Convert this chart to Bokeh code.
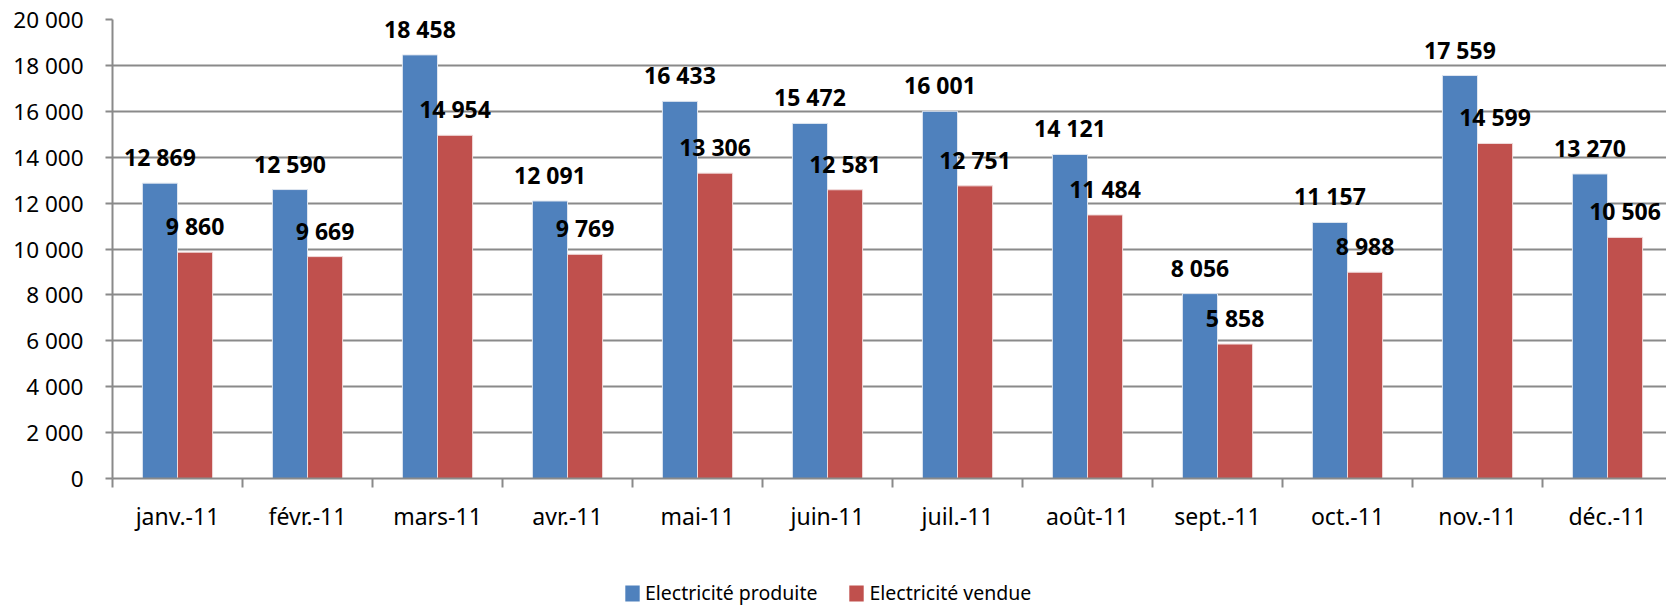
from bokeh.plotting import figure
from bokeh.layouts import column
from bokeh.models import (Range1d, FixedTicker, ColumnDataSource, Legend, LegendItem)
from bokeh.core.properties import value
from bokeh.embed import file_html
from bokeh.resources import INLINE

months = ["janv.-11", "févr.-11", "mars-11", "avr.-11", "mai-11", "juin-11",
          "juil.-11", "août-11", "sept.-11", "oct.-11", "nov.-11", "déc.-11"]
produite = [12869, 12590, 18458, 12091, 16433, 15472, 16001, 14121, 8056, 11157, 17559, 13270]
vendue = [9860, 9669, 14954, 9769, 13306, 12581, 12751, 11484, 5858, 8988, 14599, 10506]
y_ticks = list(range(0, 20001, 2000))
series_names = ["Electricité produite", "Electricité vendue"]

BLUE = "#4F81BD"
RED = "#C0504D"
GRID = "#8a8a8a"
FONT = "Noto Sans"

def fmt(v):
    return f"{v:,}".replace(",", " ")

n = len(months)
centers = [i + 0.5 for i in range(n)]
off = 0.135
bw = 0.27

src = ColumnDataSource(dict(
    xb=[c - off for c in centers], xr=[c + off for c in centers],
    p=produite, v=vendue,
    pl=[fmt(x) for x in produite], vl=[fmt(x) for x in vendue],
))

W = 1666
p = figure(width=W, height=560, output_backend="svg", toolbar_location=None,
           x_range=Range1d(0, 1554 / 130.0), y_range=Range1d(0, 20000),
           min_border_left=112, min_border_right=0, min_border_top=19,
           min_border_bottom=82)
p.outline_line_color = None
p.background_fill_color = "white"
p.border_fill_color = "white"

rb = p.vbar(x="xb", top="p", width=bw, bottom=0, source=src, fill_color=BLUE,
            line_color="#dfe6f0", line_width=1)
rr = p.vbar(x="xr", top="v", width=bw, bottom=0, source=src, fill_color=RED,
            line_color="#f0dcdc", line_width=1)

for xcol, ycol, lcol in (("xb", "p", "pl"), ("xr", "v", "vl")):
    p.text(x=xcol, y=ycol, text=lcol, source=src, text_align="center",
           text_baseline="alphabetic", y_offset=-26, text_font=value(FONT),
           text_font_style="bold", text_font_size="23px", text_color="black")

# y axis
ya = p.yaxis[0]
ya.ticker = FixedTicker(ticks=y_ticks)
ya.major_label_overrides = {t: fmt(t) for t in y_ticks}
ya.major_label_text_font = FONT
ya.major_label_text_font_size = "22.5px"
ya.major_label_text_color = "black"
ya.major_tick_out = 7
ya.major_tick_in = 0
ya.minor_tick_out = 0
ya.minor_tick_in = 0
ya.axis_line_color = GRID
ya.axis_line_width = 2
ya.major_tick_line_color = GRID
ya.major_tick_line_width = 2
ya.major_label_standoff = 22

# x axis
xa = p.xaxis[0]
xa.ticker = FixedTicker(ticks=centers, minor_ticks=list(range(n + 1)))
xa.major_label_overrides = {c: m for c, m in zip(centers, months)}
xa.major_label_text_font = FONT
xa.major_label_text_font_size = "23px"
xa.major_label_text_color = "black"
xa.major_tick_out = 0
xa.major_tick_in = 0
xa.minor_tick_out = 9
xa.minor_tick_in = 0
xa.minor_tick_line_color = GRID
xa.minor_tick_line_width = 2
xa.axis_line_color = GRID
xa.axis_line_width = 2
xa.major_label_standoff = 12

p.xgrid.grid_line_color = None
p.ygrid.ticker = FixedTicker(ticks=y_ticks)
p.ygrid.grid_line_color = GRID
p.ygrid.grid_line_width = 2

# legend strip below the chart
p2 = figure(width=W, height=45, output_backend="svg", toolbar_location=None,
            x_range=Range1d(0, 1), y_range=Range1d(0, 1),
            x_axis_location=None, y_axis_location=None,
            min_border_left=0, min_border_right=0, min_border_top=0,
            min_border_bottom=0)
p2.outline_line_color = None
p2.xgrid.grid_line_color = None
p2.ygrid.grid_line_color = None
stub = ColumnDataSource(dict(x=[0.5], top=[0]))
lb = p2.vbar(x="x", top="top", bottom=0, width=0.01, source=stub, fill_color=BLUE, line_color=None)
lr = p2.vbar(x="x", top="top", bottom=0, width=0.01, source=stub, fill_color=RED, line_color=None)

legend = Legend(items=[LegendItem(label=series_names[0], renderers=[lb]),
                       LegendItem(label=series_names[1], renderers=[lr])],
                orientation="horizontal", location=(511, -1))
legend.label_text_font = FONT
legend.label_text_font_size = "19.5px"
legend.label_text_color = "black"
legend.glyph_width = 18
legend.glyph_height = 20
legend.spacing = 30
legend.label_standoff = 4
legend.padding = 0
legend.margin = 0
legend.border_line_color = None
legend.background_fill_alpha = 0
p2.add_layout(legend)

layout = column(p, p2, spacing=0)
open("out.html", "w").write(file_html(layout, INLINE))
